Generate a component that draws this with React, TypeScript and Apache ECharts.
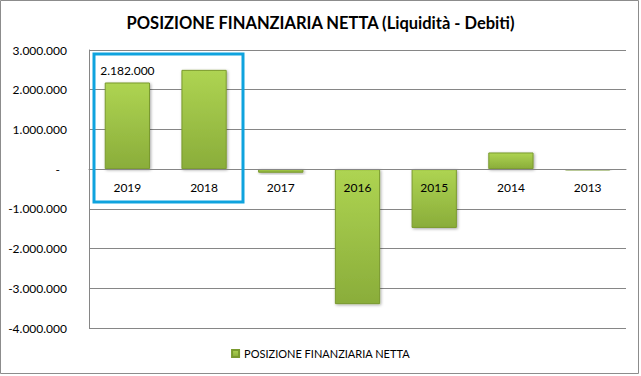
import React, { useEffect, useRef } from "react";
import * as echarts from "echarts";

const title = "POSIZIONE FINANZIARIA NETTA (Liquidità - Debiti)";
const seriesName = "POSIZIONE FINANZIARIA NETTA";
const categories = ["2019", "2018", "2017", "2016", "2015", "2014", "2013"];
const values = [2182000, 2500000, -90000, -3400000, -1480000, 420000, -30000];
const labeledIndex = [0];
const yMin = -4000000;
const yMax = 3000000;
const yStep = 1000000;

const fmt = (n: number) => {
  const s = Math.abs(Math.round(n)).toString().replace(/\B(?=(\d{3})+(?!\d))/g, ".");
  return (n < 0 ? "-" : "") + s;
};

const FONT = "Lato";
const W = 641;
const H = 376;
const GRID = { left: 89, right: 15, top: 50, bottom: 48 };

export default function App() {
  const ref = useRef<HTMLDivElement>(null);
  useEffect(() => {
    if (!ref.current) return;
    const chart = echarts.init(ref.current, undefined, { renderer: "svg" });
    const barColor = new echarts.graphic.LinearGradient(0, 0, 0, 1, [
      { offset: 0, color: "#aed452" },
      { offset: 1, color: "#8aad3a" },
    ]);
    const gridH = H - GRID.top - GRID.bottom;
    const zeroOffset = -((0 - yMin) / (yMax - yMin)) * gridH;
    chart.setOption({
      animation: false,
      backgroundColor: "#ffffff",
      title: {
        text: title,
        left: "center",
        top: 9,
        textStyle: { fontFamily: FONT, fontWeight: "bold", fontSize: 16.5, color: "#000" },
      },
      legend: {
        bottom: 12,
        left: "center",
        itemWidth: 7,
        itemHeight: 7,
        itemGap: 4,
        icon: "rect",
        textStyle: { fontFamily: FONT, fontSize: 11, color: "#000" },
        data: [seriesName],
      },
      grid: { ...GRID, containLabel: false },
      xAxis: {
        type: "category",
        data: categories,
        z: 10,
        position: "bottom",
        offset: zeroOffset,
        axisLine: { onZero: false, lineStyle: { color: "#868686", width: 1 } },
        axisTick: { show: false },
        axisLabel: { margin: 12, fontFamily: FONT, fontSize: 12, color: "#000" },
      },
      yAxis: {
        type: "value",
        min: yMin,
        max: yMax,
        interval: yStep,
        axisLine: { show: true, lineStyle: { color: "#868686" } },
        axisTick: { show: false },
        splitLine: { lineStyle: { color: "#868686", width: 1 } },
        axisLabel: {
          margin: 22,
          fontFamily: FONT,
          fontSize: 12,
          color: "#000",
          formatter: (v: number) => (v === 0 ? "{z|-}" : fmt(v)),
          rich: { z: { padding: [0, 7, 0, 0], fontFamily: FONT, fontSize: 12, color: "#000" } },
        },
      },
      series: [
        {
          name: seriesName,
          type: "bar",
          barWidth: "59%",
          z: 2,
          data: values.map((v, i) => ({
            value: v,
            label: labeledIndex.includes(i)
              ? { show: true, position: "top", distance: 6, formatter: (p: any) => fmt(p.value), fontFamily: FONT, fontSize: 12, color: "#000" }
              : { show: false },
          })),
          itemStyle: {
            color: barColor,
            borderColor: "#7a9a2e",
            borderWidth: 1,
            shadowBlur: 3,
            shadowColor: "rgba(0,0,0,0.35)",
            shadowOffsetX: 1,
            shadowOffsetY: 1,
          },
        },
      ],
      graphic: [
        {
          type: "rect",
          shape: { x: 0.5, y: 0.5, width: 638, height: 373 },
          style: { fill: "none", stroke: "#8c8c8c", lineWidth: 1 },
          silent: true,
        },
        {
          type: "rect",
          shape: { x: 94, y: 54, width: 149, height: 148 },
          style: { fill: "none", stroke: "#0fa3de", lineWidth: 3 },
          silent: true,
          z: 100,
        },
      ],
    });
    return () => chart.dispose();
  }, []);
  return (
    <div
      ref={ref}
      style={{ position: "fixed", left: 0, top: 0, width: W, height: H }}
    />
  );
}
